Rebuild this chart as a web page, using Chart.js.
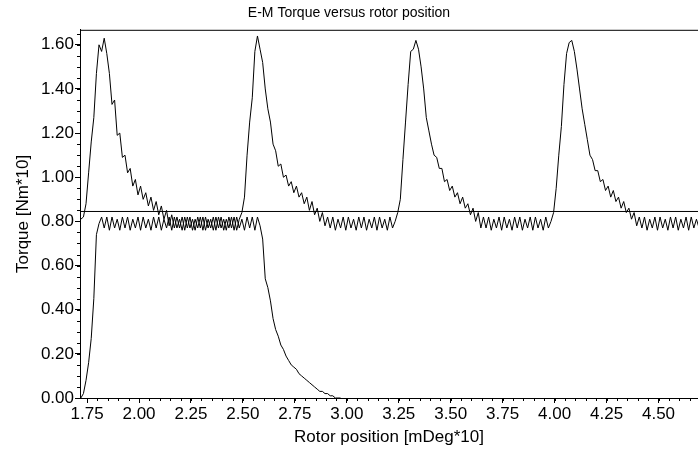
<!DOCTYPE html>
<html lang="en">
<head>
    <meta charset="UTF-8">
    <title>E-M Torque versus rotor position</title>
    <script src="https://cdn.jsdelivr.net/npm/chart.js"></script>
    <style>
        body {
            margin: 0;
            background-color: #ffffff;
        }
        #chartContainer {
            width: 698px;
            height: 449px;
        }
    </style>
</head>
<body>
    <div id="chartContainer">
        <canvas id="torqueChart"></canvas>
    </div>

    <script>
        // Sampling of the rotor position axis [mDeg*10]
        const xStart = 1.72;
        const xStep = 0.0125;

        // Torque with the repeating peaks [Nm*10]
        const torquePeaks = [
            0.81, 0.82, 0.88, 1.02, 1.16, 1.27, 1.47, 1.60, 1.57, 1.63,
            1.56, 1.47, 1.33, 1.35, 1.19, 1.20, 1.09, 1.10, 1.02, 1.04,
            0.96, 0.99, 0.92, 0.96, 0.90, 0.93, 0.87, 0.91, 0.85, 0.89,
            0.83, 0.87, 0.81, 0.85, 0.78, 0.83, 0.77, 0.82, 0.77, 0.82,
            0.76, 0.82, 0.77, 0.81, 0.76, 0.82, 0.77, 0.82, 0.76, 0.81,
            0.77, 0.82, 0.76, 0.82, 0.77, 0.81, 0.76, 0.82, 0.77, 0.82,
            0.76, 0.81, 0.84, 0.91, 1.10, 1.25, 1.36, 1.57, 1.64, 1.58,
            1.52, 1.40, 1.31, 1.25, 1.15, 1.12, 1.05, 1.06, 1.00, 1.01,
            0.96, 0.98, 0.93, 0.96, 0.91, 0.93, 0.88, 0.91, 0.85, 0.89,
            0.83, 0.86, 0.80, 0.84, 0.78, 0.82, 0.77, 0.82, 0.76, 0.81,
            0.77, 0.82, 0.76, 0.82, 0.77, 0.81, 0.76, 0.82, 0.77, 0.82,
            0.76, 0.81, 0.77, 0.82, 0.76, 0.82, 0.77, 0.81, 0.76, 0.82,
            0.77, 0.80, 0.84, 0.90, 1.08, 1.25, 1.42, 1.57, 1.58, 1.62,
            1.58, 1.50, 1.40, 1.27, 1.21, 1.15, 1.10, 1.09, 1.04, 1.04,
            0.98, 0.99, 0.94, 0.96, 0.91, 0.93, 0.88, 0.91, 0.86, 0.88,
            0.83, 0.86, 0.80, 0.84, 0.77, 0.82, 0.77, 0.82, 0.76, 0.81,
            0.77, 0.82, 0.76, 0.82, 0.77, 0.81, 0.76, 0.82, 0.77, 0.82,
            0.76, 0.81, 0.77, 0.82, 0.76, 0.82, 0.77, 0.81, 0.76, 0.82,
            0.77, 0.80, 0.84, 0.95, 1.10, 1.23, 1.42, 1.56, 1.61, 1.62,
            1.57, 1.49, 1.40, 1.31, 1.24, 1.17, 1.10, 1.08, 1.03, 1.03,
            0.98, 0.99, 0.94, 0.96, 0.91, 0.94, 0.89, 0.91, 0.86, 0.89,
            0.84, 0.86, 0.81, 0.84, 0.78, 0.82, 0.77, 0.82, 0.76, 0.81,
            0.77, 0.82, 0.76, 0.82, 0.77, 0.81, 0.76, 0.82, 0.77, 0.82,
            0.76, 0.81, 0.77, 0.82, 0.76, 0.82, 0.77, 0.81, 0.77
        ];

        // Start-up torque, falling off after the first cycle [Nm*10]
        const torqueStartup = [
            0.00, 0.02, 0.08, 0.16, 0.27, 0.45, 0.74, 0.79, 0.82, 0.77,
            0.82, 0.76, 0.82, 0.77, 0.81, 0.76, 0.82, 0.77, 0.82, 0.76,
            0.81, 0.77, 0.82, 0.76, 0.82, 0.77, 0.81, 0.76, 0.82, 0.77,
            0.82, 0.76, 0.81, 0.77, 0.82, 0.76, 0.82, 0.77, 0.81, 0.76,
            0.82, 0.77, 0.82, 0.76, 0.81, 0.77, 0.82, 0.76, 0.82, 0.77,
            0.81, 0.76, 0.82, 0.77, 0.82, 0.76, 0.81, 0.77, 0.82, 0.76,
            0.82, 0.77, 0.81, 0.76, 0.82, 0.77, 0.82, 0.76, 0.82, 0.78,
            0.72, 0.54, 0.50, 0.44, 0.36, 0.31, 0.28, 0.24, 0.22, 0.19,
            0.17, 0.15, 0.14, 0.13, 0.11, 0.10, 0.09, 0.08, 0.07, 0.06,
            0.05, 0.04, 0.03, 0.03, 0.02, 0.02, 0.01, 0.01, 0.00, 0.00,
            0.00
        ];

        // Mean torque level
        const meanTorque = 0.845;

        const xRange = [1.716, 4.69];
        const yRange = [0, 1.668];
        const xTickValues = [1.75, 2.00, 2.25, 2.50, 2.75, 3.00, 3.25, 3.50, 3.75, 4.00, 4.25, 4.50];
        const yTickValues = [0.00, 0.20, 0.40, 0.60, 0.80, 1.00, 1.20, 1.40, 1.60];
        const minorStep = 0.05;

        function toPoints(values) {
            return values.map((v, i) => ({ x: xStart + i * xStep, y: v }));
        }

        // Minor ticks and the top frame line
        const frameTicks = {
            id: 'frameTicks',
            afterDraw(chart) {
                const { ctx, chartArea: a, scales: { x, y } } = chart;
                ctx.save();
                ctx.strokeStyle = '#000';
                ctx.lineWidth = 1;
                ctx.beginPath();
                ctx.moveTo(a.left, a.top + 0.5);
                ctx.lineTo(a.right, a.top + 0.5);
                for (let k = Math.ceil(x.min / minorStep); k * minorStep <= x.max; k++) {
                    const px = Math.round(x.getPixelForValue(k * minorStep)) + 0.5;
                    ctx.moveTo(px, a.bottom);
                    ctx.lineTo(px, a.bottom + 3);
                }
                for (let k = Math.ceil(y.min / minorStep); k * minorStep <= y.max; k++) {
                    const py = Math.round(y.getPixelForValue(k * minorStep)) + 0.5;
                    ctx.moveTo(a.left, py);
                    ctx.lineTo(a.left - 3, py);
                }
                ctx.stroke();
                ctx.restore();
            }
        };

        const font = { family: 'Arial, "Liberation Sans", sans-serif' };
        const lineStyle = { borderColor: '#000', backgroundColor: '#000', borderWidth: 1, pointRadius: 0, tension: 0, fill: false };

        const ctx = document.getElementById('torqueChart').getContext('2d');
        new Chart(ctx, {
            type: 'line',
            data: {
                datasets: [
                    { ...lineStyle, data: toPoints(torquePeaks) },
                    { ...lineStyle, data: toPoints(torqueStartup) },
                    { ...lineStyle, data: [{ x: xRange[0], y: meanTorque }, { x: xRange[1], y: meanTorque }] }
                ]
            },
            options: {
                responsive: true,
                maintainAspectRatio: false,
                animation: false,
                layout: { padding: 0 },
                scales: {
                    x: {
                        type: 'linear',
                        min: xRange[0],
                        max: xRange[1],
                        afterFit(scale) { scale.height = 51; },
                        afterBuildTicks(scale) { scale.ticks = xTickValues.map(v => ({ value: v })); },
                        border: { display: true, color: '#000', width: 1 },
                        grid: { drawOnChartArea: false, drawTicks: true, tickLength: 5, tickColor: '#000' },
                        ticks: {
                            color: '#000',
                            padding: 1,
                            maxRotation: 0,
                            autoSkip: false,
                            font: { ...font, size: 17 },
                            callback: v => v.toFixed(2)
                        },
                        title: {
                            display: true,
                            text: 'Rotor position [mDeg*10]',
                            color: '#000',
                            font: { ...font, size: 17 },
                            padding: { top: 1, bottom: 1 }
                        }
                    },
                    y: {
                        min: yRange[0],
                        max: yRange[1],
                        afterFit(scale) { scale.width = 80; },
                        afterBuildTicks(scale) { scale.ticks = yTickValues.map(v => ({ value: v })); },
                        border: { display: true, color: '#000', width: 1 },
                        grid: { drawOnChartArea: false, drawTicks: true, tickLength: 5, tickColor: '#000' },
                        ticks: {
                            color: '#000',
                            padding: 1,
                            autoSkip: false,
                            font: { ...font, size: 17 },
                            callback: v => v.toFixed(2)
                        },
                        title: {
                            display: true,
                            text: 'Torque [Nm*10]',
                            color: '#000',
                            font: { ...font, size: 17 },
                            padding: { top: 13, bottom: 0 }
                        }
                    }
                },
                plugins: {
                    legend: { display: false },
                    tooltip: { enabled: false },
                    title: {
                        display: true,
                        text: 'E-M Torque versus rotor position',
                        color: '#000',
                        font: { ...font, size: 14, weight: 'normal' },
                        padding: { top: 5, bottom: 8 }
                    }
                }
            },
            plugins: [frameTicks]
        });
    </script>
</body>
</html>
